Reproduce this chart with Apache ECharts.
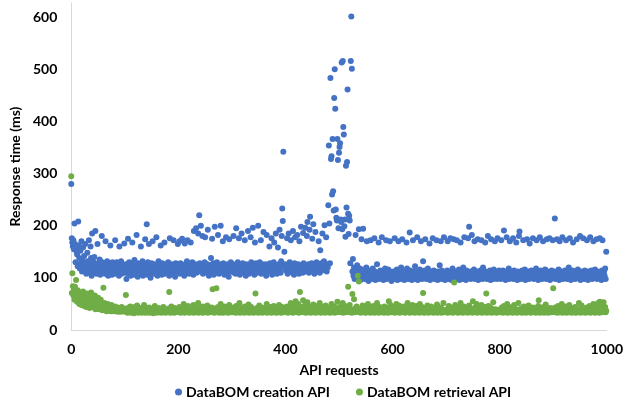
<!DOCTYPE html>
<html>
<head>
<meta charset="utf-8">
<script src="https://cdn.jsdelivr.net/npm/echarts@6/dist/echarts.min.js"></script>
<style>html,body{margin:0;padding:0;background:#fff;}#c{width:626px;height:401px;}</style>
</head>
<body>
<div id="c"></div>
<script>
// Response times (ms) of the DataBOM creation API, requests 0..999, in blocks of 100
var blue0 = [280,176,168,160,172,155,204,165,130,158,150,145,122,208,162,138,118,152,128,170,
112,135,158,124,142,115,165,128,108,120,148,132,118,172,110,125,160,138,104,185,
122,116,130,140,112,190,126,108,120,165,114,128,118,135,106,122,112,180,130,116,
110,124,118,108,170,126,114,132,120,104,116,128,110,162,122,115,106,130,118,112,
124,108,172,120,116,130,110,118,126,104,160,114,122,132,108,118,125,112,120,166];
var blue1 = [118,110,126,98,122,114,175,108,130,116,120,104,128,112,168,118,124,106,134,115,
110,122,182,116,102,128,114,120,108,125,160,112,118,132,104,122,116,110,174,126,
114,203,106,130,118,165,112,124,100,116,128,110,170,122,114,108,126,118,112,178,
120,104,116,132,110,124,114,162,120,106,128,116,112,122,168,108,118,126,114,120,
110,130,116,104,176,122,112,118,126,108,114,172,120,116,102,128,112,124,118,165];
var blue2 = [116,122,170,108,128,114,120,175,110,124,118,104,166,126,112,120,132,172,114,118,
108,124,116,168,122,112,130,118,106,190,120,114,126,195,110,118,122,185,116,220,
128,112,200,118,124,180,108,120,116,130,178,114,122,110,126,192,118,104,120,116,
124,138,112,175,120,128,106,118,198,114,122,110,130,116,182,120,108,126,114,200,
118,124,112,170,128,116,106,122,114,178,120,110,126,118,102,174,124,116,130,112];
var blue3 = [120,114,126,180,110,118,124,108,195,116,122,130,112,176,118,106,124,114,185,120,
128,110,116,122,172,114,104,126,118,112,190,120,108,124,116,178,130,112,118,196,
114,122,106,168,120,128,116,110,124,200,118,112,130,120,172,108,116,126,114,188,
122,110,118,126,104,182,116,124,112,120,160,128,114,118,176,106,122,116,130,168,
112,120,185,124,108,118,158,126,114,192,120,110,132,180,233,209,342,124,150,118];
var blue4 = [126,114,120,176,108,122,185,118,130,112,172,116,124,110,190,120,106,128,178,116,
122,112,182,118,126,108,170,120,114,198,124,116,110,186,128,118,120,196,112,124,
180,207,118,126,110,192,217,122,114,128,175,116,203,120,108,124,188,118,130,112,
122,116,170,126,110,153,120,128,114,185,118,124,132,201,116,122,178,112,126,120,
239,354,204,128,483,328,333,260,366,266,229,445,500,424,231,215,210,366,326,195];
var blue5 = [340,351,358,212,207,513,193,516,389,375,199,212,179,315,235,322,461,223,184,219,
210,128,516,601,501,112,136,104,120,98,108,182,115,100,124,106,110,193,102,118,
96,108,174,112,100,194,104,116,98,110,106,120,170,102,112,94,108,100,114,172,
104,110,98,118,106,100,176,112,96,108,104,126,100,110,168,98,106,114,102,108,
178,100,112,96,106,104,118,110,172,98,108,102,116,106,100,170,112,104,94,110];
var blue6 = [106,100,112,98,176,104,110,102,116,96,108,170,100,114,106,98,120,104,174,110,
102,108,96,112,104,100,168,118,106,98,110,102,187,114,100,108,96,104,172,112,
98,106,122,100,110,104,178,96,112,108,102,116,100,170,106,98,110,132,104,100,
114,174,106,98,108,102,118,100,110,166,96,104,112,100,108,176,102,114,98,106,
110,100,172,104,96,112,108,100,124,106,170,98,114,102,108,100,178,110,96,104];
var blue7 = [108,100,114,170,98,106,110,102,176,112,96,104,118,100,174,108,102,112,98,106,
172,104,110,100,116,96,108,168,102,112,106,98,120,104,178,100,110,96,114,106,
102,176,108,198,100,112,98,104,182,110,106,100,116,170,98,108,102,112,104,174,
96,110,106,100,114,102,172,108,98,120,104,110,100,168,112,106,98,104,180,110,
100,108,114,96,174,106,102,110,98,116,104,170,100,112,106,98,176,108,102,114];
var blue8 = [104,110,98,172,106,100,114,108,191,102,112,96,106,178,100,110,104,118,98,170,
108,102,112,100,106,176,98,114,104,110,100,168,108,96,112,104,180,189,102,110,
98,106,114,100,172,108,102,116,96,110,104,174,100,112,106,98,166,108,102,114,
100,110,176,104,98,112,106,100,118,172,108,102,96,110,104,178,100,114,106,98,
110,170,102,108,100,116,104,98,174,112,106,100,110,176,96,108,102,114,100,172];
var blue9 = [106,100,112,214,98,108,104,174,110,102,116,96,170,106,100,112,104,178,98,110,
102,108,114,100,172,106,98,112,104,120,100,176,108,96,110,102,114,168,106,100,
112,98,104,110,174,100,116,106,102,108,180,96,112,104,100,110,176,106,98,114,
104,110,100,172,108,96,112,106,102,178,100,114,108,98,104,170,110,102,116,100,
106,174,98,112,104,100,110,176,106,102,96,114,172,108,100,112,104,118,98,150];

// Response times (ms) of the DataBOM retrieval API, requests 0..999, in blocks of 100
var green0 = [295,71,109,84,66,78,58,83,62,96,70,54,76,60,68,50,64,72,56,48,
62,52,74,58,46,66,55,60,44,70,52,58,48,64,42,56,50,72,46,54,
60,44,52,48,66,40,56,46,50,42,62,48,40,54,44,58,42,50,38,46,
81,40,52,38,44,48,36,42,50,40,37,46,39,43,36,48,40,38,44,36,
41,38,45,36,40,37,43,35,39,42,36,40,38,35,44,37,39,36,41,38];
var green1 = [38,35,67,40,36,33,42,37,34,39,45,36,33,38,41,35,37,32,44,36,
39,34,37,47,35,33,40,36,38,34,42,37,33,36,39,35,48,34,37,33,
40,36,34,38,35,43,33,37,36,39,34,41,35,32,38,36,46,34,37,35,
33,39,36,42,34,37,35,38,33,40,36,34,44,37,35,39,33,36,38,34,
37,35,41,73,36,33,38,45,34,37,35,39,33,42,36,34,38,35,40,36];
var green2 = [35,38,44,36,33,40,37,34,39,35,50,36,33,38,42,35,37,34,46,36,
39,33,37,41,35,38,34,36,48,33,40,37,35,43,34,38,36,52,33,37,
35,41,38,34,36,45,33,39,37,35,42,34,38,36,47,33,37,40,35,39,
34,36,43,38,78,35,37,33,41,36,39,80,34,37,44,35,38,33,36,50,
37,34,40,36,33,38,45,35,37,34,42,36,39,33,38,48,35,37,34,40];
var green3 = [36,39,34,43,37,35,38,33,46,36,34,40,37,35,52,33,38,36,42,34,
37,35,39,33,45,36,38,34,41,37,35,49,33,36,39,34,44,37,35,38,
33,40,36,34,70,37,35,42,38,33,36,47,34,39,35,37,43,33,36,38,
35,41,34,37,36,50,33,38,35,39,34,44,36,37,33,40,35,38,46,34,
37,35,42,33,38,36,39,34,48,37,35,41,33,36,44,38,34,37,35,40];
var green4 = [36,34,39,45,37,33,41,35,38,36,52,34,37,40,33,47,36,38,35,55,
34,42,37,36,50,33,39,73,35,38,44,36,34,57,37,40,35,48,33,38,
36,53,34,39,37,45,35,33,41,38,36,34,49,37,35,42,33,38,36,46,
34,39,37,35,52,36,33,40,38,34,44,37,35,39,33,47,36,38,34,41,
37,35,43,33,38,36,50,34,39,37,35,45,33,38,36,41,34,54,37,35];
var green5 = [38,36,44,34,37,40,35,52,33,38,36,46,34,39,37,35,42,83,36,34,
48,37,35,39,33,69,36,38,59,34,41,37,35,45,36,104,38,93,34,40,
36,33,39,37,47,35,38,34,42,36,33,40,37,35,50,34,38,36,43,33,
37,35,39,34,46,36,38,33,41,37,35,52,34,39,36,33,44,38,35,37,
34,40,36,38,33,45,37,35,39,34,42,36,33,55,38,35,48,37,34,36];
var green6 = [39,35,37,44,33,38,36,50,34,40,37,35,47,33,38,36,42,34,39,37,
35,45,36,33,38,41,34,37,52,35,39,36,33,43,38,34,37,48,35,36,
40,33,38,36,46,34,37,35,42,39,33,50,36,38,34,44,37,71,39,33,
36,41,34,38,35,47,37,33,40,36,38,34,45,35,39,37,33,35,36,42,
34,38,36,49,33,37,35,40,38,34,43,36,33,39,37,52,35,38,34,36];
var green7 = [37,35,40,33,38,46,36,34,39,37,43,35,33,38,36,91,34,48,37,35,
39,36,33,44,38,34,37,52,35,40,36,33,38,45,34,37,39,35,42,36,
33,38,36,47,34,40,37,35,39,33,55,36,38,34,43,37,35,50,33,39,
36,38,34,41,37,35,48,33,39,36,38,34,44,37,35,70,33,38,36,46,
34,37,39,35,42,33,38,36,53,34,37,35,40,38,33,37,36,39,34,37];
var green8 = [36,34,39,37,43,35,33,38,46,36,40,34,37,35,50,33,38,36,42,34,
37,39,35,44,33,38,36,48,34,37,40,35,33,39,36,52,34,38,37,35,
41,33,36,38,34,45,37,35,39,33,36,42,38,34,47,37,35,40,33,36,
38,34,43,36,37,35,39,33,41,36,38,34,46,57,37,33,40,36,39,34,
37,35,44,33,38,36,49,34,37,40,35,33,39,36,42,38,34,37,35,41];
var green9 = [80,36,38,34,43,37,35,39,33,46,36,38,34,41,37,35,50,33,39,36,
38,34,37,45,35,33,40,36,38,34,48,37,35,39,33,42,36,38,34,37,
35,44,33,38,36,40,34,37,52,35,39,33,36,47,38,34,37,35,41,36,
33,38,36,43,34,37,39,35,46,33,38,36,40,34,37,50,35,39,33,36,
38,34,45,37,52,35,33,54,36,38,48,34,37,35,53,39,36,44,34,37];

var seriesNames = ['DataBOM creation API', 'DataBOM retrieval API'];
var xTicks = [0, 200, 400, 600, 800, 1000];
var yTicks = [0, 100, 200, 300, 400, 500, 600];

var blueAll = [].concat(blue0, blue1, blue2, blue3, blue4, blue5, blue6, blue7, blue8, blue9);
var greenAll = [].concat(green0, green1, green2, green3, green4, green5, green6, green7, green8, green9);
function toPoints(arr) { return arr.map(function (v, i) { return [i, v]; }); }

var FONT = 'Lato';
var FS = 14;
var chart = echarts.init(document.getElementById('c'), null, { renderer: 'canvas' });
chart.setOption({
  animation: false,
  backgroundColor: '#ffffff',
  textStyle: { fontFamily: FONT },
  grid: { left: 66, right: 14, top: 3, bottom: 71, containLabel: false },
  xAxis: {
    type: 'value', min: xTicks[0], max: xTicks[xTicks.length - 1], interval: 200,
    name: 'API requests', nameLocation: 'middle', nameGap: 33,
    nameTextStyle: { fontFamily: FONT, fontWeight: 'bold', fontSize: FS, color: '#000' },
    axisLine: { show: true, lineStyle: { color: '#d9d9d9', width: 1 } },
    axisTick: { show: false },
    splitLine: { show: false },
    axisLabel: { margin: 12, fontFamily: FONT, fontWeight: 'bold', fontSize: FS, color: '#000',
      formatter: function (v) { return xTicks.indexOf(v) >= 0 ? String(v) : ''; } }
  },
  yAxis: {
    type: 'value', min: yTicks[0], max: 627, interval: 100,
    name: 'Response time (ms)', nameLocation: 'middle', nameGap: 38,
    nameTextStyle: { fontFamily: FONT, fontWeight: 'bold', fontSize: FS, color: '#000' },
    axisLine: { show: true, lineStyle: { color: '#d9d9d9', width: 1 } },
    axisTick: { show: false },
    splitLine: { show: false },
    axisLabel: { margin: 14, showMaxLabel: false, fontFamily: FONT, fontWeight: 'bold', fontSize: FS, color: '#000',
      formatter: function (v) { return yTicks.indexOf(v) >= 0 ? String(v) : ''; } }
  },
  legend: {
    top: 380, left: 170, itemGap: 26, itemWidth: 7, itemHeight: 7,
    icon: 'circle',
    textStyle: { fontFamily: FONT, fontWeight: 'bold', fontSize: FS, color: '#000', padding: [0, 0, 0, -1] },
    data: seriesNames
  },
  series: [
    { name: seriesNames[0], type: 'scatter', symbol: 'circle', symbolSize: 6,
      itemStyle: { color: '#4472C4', opacity: 1 }, data: toPoints(blueAll) },
    { name: seriesNames[1], type: 'scatter', symbol: 'circle', symbolSize: 6,
      itemStyle: { color: '#70AD47', opacity: 1 }, data: toPoints(greenAll) }
  ]
});
</script>
</body>
</html>
